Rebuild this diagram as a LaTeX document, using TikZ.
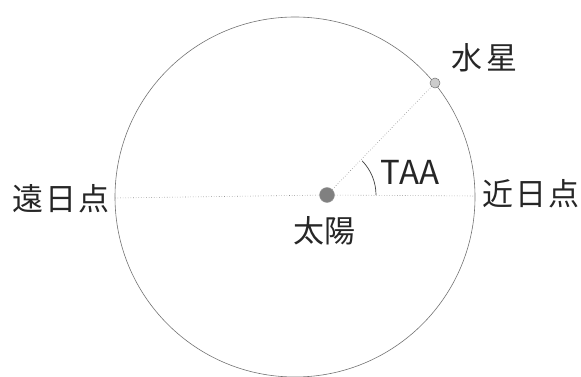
\documentclass[tikz,border=0pt]{standalone}
\usepackage{fontspec}
\newfontfamily\cjk{Noto Sans CJK JP}
\begin{document}
\begin{tikzpicture}[x=1pt,y=-1pt,
  orbit/.style={draw=black!55,line width=0.6pt},
  axisline/.style={draw=black!45,dotted,line width=0.6pt},
  lbl/.style={font=\cjk\fontsize{31}{31}\selectfont,text=black!85,inner sep=0pt},
  sun/.style={circle,fill=black!50,draw=black!40,minimum size=15pt,inner sep=0pt},
  planet/.style={circle,fill=black!20,draw=black!55,line width=0.5pt,minimum size=10pt,inner sep=0pt}]
\useasboundingbox (0,0) rectangle (581,377);
\clip (0,0) rectangle (581,377);
\coordinate (C) at (295,197);
\coordinate (aph) at (115,198);
\coordinate (per) at (475,196);
\draw[orbit] (C) circle[radius=180];
\node[sun] (sun) at (327,195) {};
\node[planet] (merc) at (435,83) {};
\draw[axisline] (aph) -- (sun) -- (per);
\draw[axisline] (sun) -- (merc);
\draw[black!75,line width=0.7pt] ([shift={(0:49)}]sun.center) arc[start angle=0,end angle=-44,radius=49];
\node[font=\cjk\fontsize{33}{33}\selectfont,text=black!85,inner sep=0pt] (taa) at (410,172) {TAA};
\node[lbl] (l1) at (484,58) {水\hspace{4pt}星};
\node[lbl] (l2) at (61,199) {遠\hspace{2pt}日\hspace{2pt}点};
\node[lbl] (l3) at (531,194) {近\hspace{2pt}日\hspace{2pt}点};
\node[lbl] (l4) at (324,231) {太陽};
\end{tikzpicture}
\end{document}
